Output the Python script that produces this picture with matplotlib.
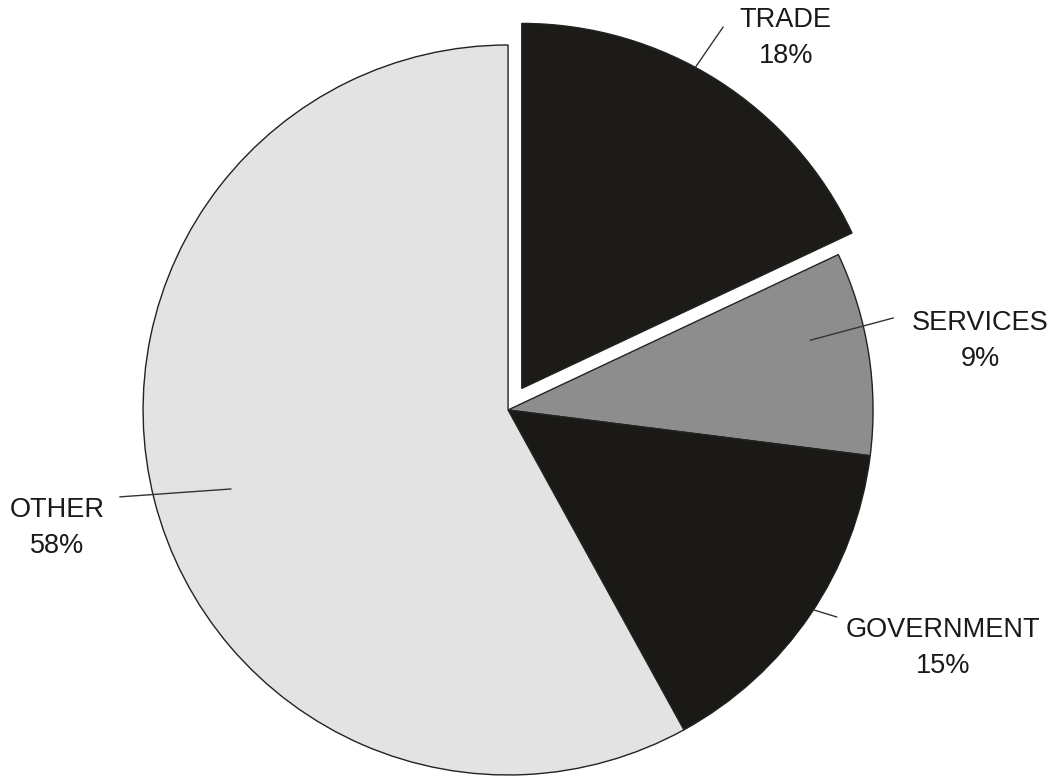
import numpy as np
import matplotlib.pyplot as plt

# data
labels = ["TRADE", "SERVICES", "GOVERNMENT", "OTHER"]
shares = [18, 9, 15, 58]
colors = ["#1d1b18", "#8d8d8d", "#1b1916", "#e3e3e3"]
explode = [0.07, 0, 0, 0]

# label placement (text centre, line end, leader start inside the slice)
text_pos = [(0.761, 1.018), (1.293, 0.188), (1.192, -0.652), (-1.236, -0.322)]
line_end = [(0.589, 1.049), (1.055, 0.252), (0.900, -0.567), (-1.063, -0.238)]
line_depth = [1.0, 0.85, 1.0, 0.79]
angle_shift = [4.0, 4.0, 1.0, 1.5]

fig = plt.figure(figsize=(10.53, 7.78), dpi=100)
ax = fig.add_axes([0, 0, 1, 1])

wedges, _ = ax.pie(shares, colors=colors, explode=explode, startangle=90,
                   counterclock=False, radius=1.0,
                   wedgeprops=dict(edgecolor="#222222", linewidth=1.0))

ax.set_xlim(-1.392, 1.493)
ax.set_ylim(-1.008, 1.123)
ax.set_aspect("equal")
ax.axis("off")

for i, w in enumerate(wedges):
    mid = np.deg2rad((w.theta1 + w.theta2) / 2 + angle_shift[i])
    cx, cy = w.center
    x0 = cx + line_depth[i] * np.cos(mid)
    y0 = cy + line_depth[i] * np.sin(mid)
    x1, y1 = line_end[i]
    ax.plot([x0, x1], [y0, y1], color="#333333", linewidth=1.0)
    ax.text(text_pos[i][0], text_pos[i][1], f"{labels[i]}\n{shares[i]}%",
            ha="center", va="center", fontsize=19.5, family="Liberation Sans",
            color="#1a1a1a", linespacing=1.5)

plt.savefig("out.png", dpi=100)
